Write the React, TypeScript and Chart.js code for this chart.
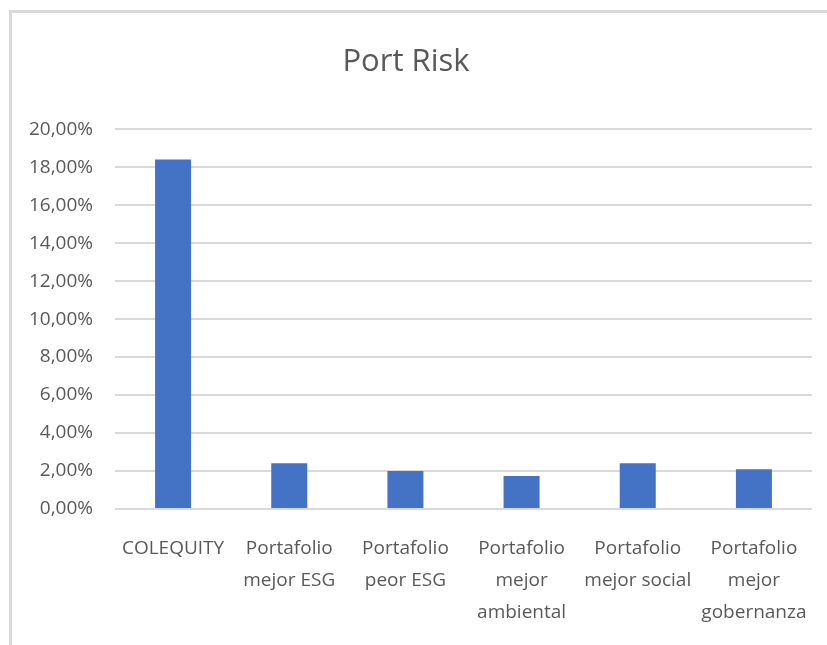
import React, { useEffect, useRef } from "react";
import { Chart, registerables } from "chart.js";

Chart.register(...registerables);

const categories: string[][] = [
  ["COLEQUITY"],
  ["Portafolio", "mejor ESG"],
  ["Portafolio", "peor ESG"],
  ["Portafolio", "mejor", "ambiental"],
  ["Portafolio", "mejor social"],
  ["Portafolio", "mejor", "gobernanza"],
];
const portRisk: number[] = [0.184, 0.0241, 0.02, 0.0174, 0.0241, 0.0209];
const titleText = "Port Risk";

const FONT = "'Open Sans', 'DejaVu Sans', sans-serif";
const TEXT = "#595959";
const GRID = "#d9d9d9";

export default function App() {
  const ref = useRef<HTMLCanvasElement | null>(null);

  useEffect(() => {
    if (!ref.current) return;
    const chart = new Chart(ref.current, {
      type: "bar",
      data: {
        labels: categories,
        datasets: [
          {
            label: titleText,
            data: portRisk,
            backgroundColor: "#4472C4",
            borderWidth: 0,
            barPercentage: 0.31,
            categoryPercentage: 1,
          },
        ],
      },
      options: {
        animation: false,
        responsive: true,
        maintainAspectRatio: false,
        layout: { padding: { left: 0, right: 15, top: 0, bottom: 0 } },
        plugins: {
          legend: { display: false },
          tooltip: { enabled: false },
          title: {
            display: true,
            text: titleText,
            color: TEXT,
            font: { family: FONT, size: 31, weight: "normal", lineHeight: 1.2 },
            padding: { top: 44, bottom: 48 },
          },
        },
        scales: {
          x: {
            grid: { display: false },
            border: { display: false },
            afterFit: (scale: any) => {
              scale.height = 136;
            },
            ticks: {
              color: TEXT,
              padding: 16,
              maxRotation: 0,
              autoSkip: false,
              font: { family: FONT, size: 19, lineHeight: 1.68 },
            },
          },
          y: {
            min: 0,
            max: 0.2,
            afterFit: (scale: any) => {
              scale.width = 115;
            },
            grid: { color: GRID, lineWidth: 2, drawTicks: false },
            border: { display: false },
            ticks: {
              stepSize: 0.02,
              color: TEXT,
              padding: 22,
              font: { family: FONT, size: 19 },
              callback: (v: any) => (Number(v) * 100).toFixed(2).replace(".", ",") + "%",
            },
          },
        },
      },
    });
    return () => chart.destroy();
  }, []);

  return (
    <div
      style={{
        position: "fixed",
        left: 0,
        top: 0,
        width: 827,
        height: 645,
        overflow: "hidden",
        background: "#ffffff",
      }}
    >
      <div
        style={{
          position: "absolute",
          left: 9,
          top: 10,
          width: 900,
          height: 700,
          borderLeft: "3px solid #d9d9d9",
          borderTop: "3px solid #d9d9d9",
        }}
      />
      <div style={{ position: "absolute", left: 0, top: 0, width: 827, height: 645 }}>
        <canvas ref={ref} />
      </div>
    </div>
  );
}
